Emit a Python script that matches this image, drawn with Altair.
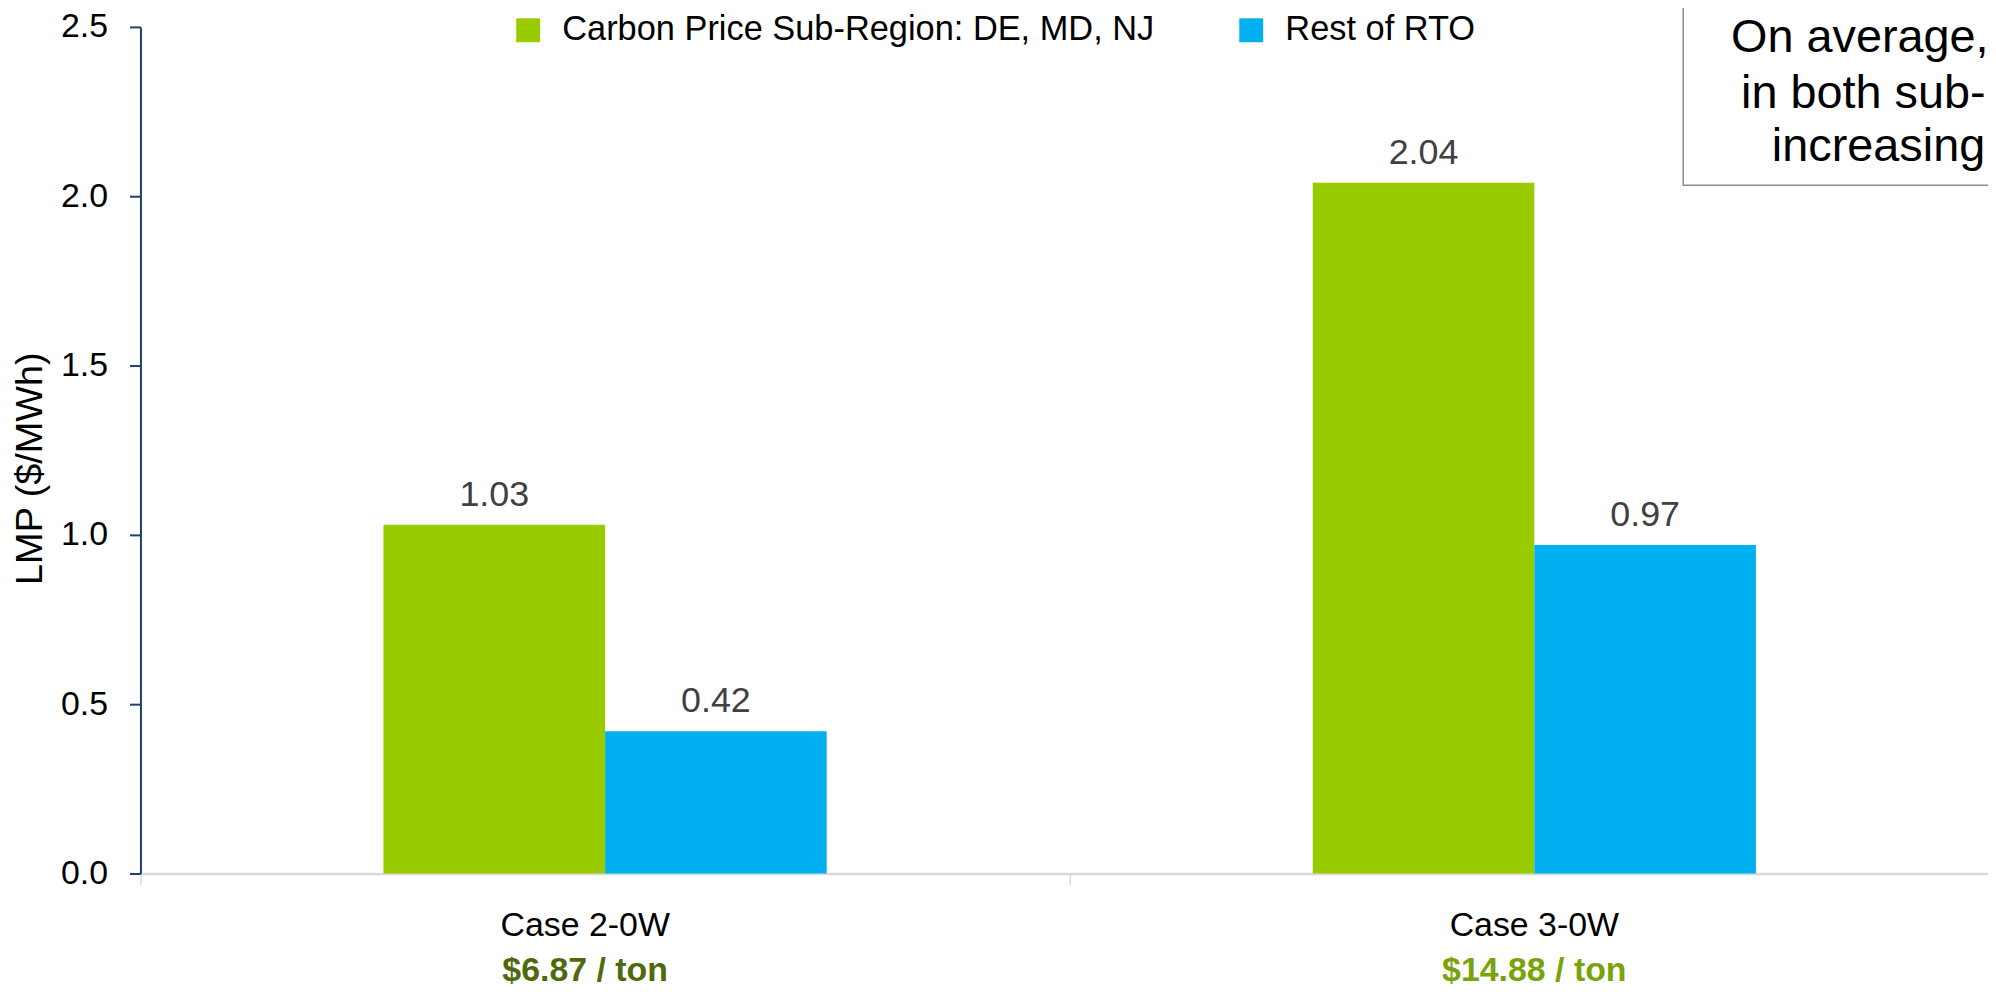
import altair as alt
import pandas as pd

categories = ["Case 2-0W", "Case 3-0W"]
series = ["Carbon Price Sub-Region: DE, MD, NJ", "Rest of RTO"]
sub_region_values = [1.03, 2.04]
rest_of_rto_values = [0.42, 0.97]
price_labels = ["$6.87 / ton", "$14.88 / ton"]
price_colors = ["#4F6A0C", "#78A30A"]
label_shift = [-20, 0]
series_colors = ["#99CC00", "#00B0F0"]
y_ticks = [0.0, 0.5, 1.0, 1.5, 2.0, 2.5]
annotation_lines = ["On average,", "in both sub-", "increasing"]

rows = []
for c, v1, v2 in zip(categories, sub_region_values, rest_of_rto_values):
    rows.append({"category": c, "series": series[0], "value": v1})
    rows.append({"category": c, "series": series[1], "value": v2})
df = pd.DataFrame(rows)
df_cat = pd.DataFrame({"category": categories, "price": price_labels})

REG = "'Liberation Sans', Arial, sans-serif"

x_enc = alt.X(
    "category:N",
    sort=categories,
    scale=alt.Scale(domain=categories, range=[0, 1866], paddingInner=0, paddingOuter=0),
    axis=alt.Axis(labels=False, title=None, bandPosition=0, tickSize=11,
                  tickColor="#d9d9d9", tickWidth=1.5, domainColor="#d9d9d9",
                  domainWidth=2.5, grid=False),
)
xoff_enc = alt.XOffset("series:N", sort=series,
                       scale=alt.Scale(domain=series, range=[244, 689],
                                       paddingInner=0, paddingOuter=0))
y_enc = alt.Y(
    "value:Q",
    scale=alt.Scale(domain=[0, 2.5], nice=False),
    axis=alt.Axis(values=y_ticks, format=".1f", labelFont=REG, labelFontSize=34,
                  labelColor="black", labelPadding=22, tickSize=11, tickColor="#1f3f6e",
                  tickWidth=2, domainColor="#1f3f6e", domainWidth=2, grid=False,
                  title="LMP ($/MWh)", titleFont=REG, titleFontSize=38,
                  titleFontWeight="normal", titleColor="black", titleAngle=270,
                  titleX=-91, titleY=443, titleBaseline="bottom"),
)

base = alt.Chart(df)
bars = base.mark_bar().encode(
    x=x_enc, xOffset=xoff_enc, y=y_enc,
    color=alt.Color("series:N", sort=series,
                    scale=alt.Scale(domain=series, range=series_colors),
                    legend=alt.Legend(title=None, orient="none", legendX=372, legendY=-14,
                                      direction="horizontal", symbolType="square",
                                      symbolSize=576, symbolStrokeWidth=0,
                                      labelFont=REG, labelFontSize=34.5, labelColor="black",
                                      labelOffset=17, columnPadding=80, labelLimit=1200,
                                      padding=0)),
)
value_labels = base.mark_text(dy=-19, baseline="alphabetic", fontSize=36,
                              color="#404040", font=REG).encode(
    x=x_enc, xOffset=xoff_enc, y=y_enc,
    text=alt.Text("value:Q", format=".2f"),
)

label_layers = []
for cat, col, shift in zip(categories, price_colors, label_shift):
    sub = alt.Chart(df_cat).transform_filter(alt.datum.category == cat)
    label_layers.append(
        sub.mark_text(baseline="alphabetic", fontSize=34, font=REG, color="black", dx=shift)
        .encode(x=x_enc, y=alt.value(913), text="category:N")
    )
    label_layers.append(
        sub.mark_text(baseline="alphabetic", fontSize=34, font=REG, fontWeight="bold",
                      color=col, dx=shift)
        .encode(x=x_enc, y=alt.value(958), text="price:N")
    )

box = alt.Chart(pd.DataFrame({"a": [0]})).mark_rect(
    fill="white", stroke="#8c8c8c", strokeWidth=1.5).encode(
    x=alt.value(1549), x2=alt.value(2200), y=alt.value(-80), y2=alt.value(159))

ann_layers = []
for txt, xp, yp in zip(annotation_lines, [1597, 1607, 1638], [25, 81, 135]):
    ann_layers.append(
        alt.Chart(pd.DataFrame({"t": [txt]})).mark_text(
            align="left", baseline="alphabetic", fontSize=47, font=REG, color="black")
        .encode(text="t:N", x=alt.value(xp), y=alt.value(yp))
    )

chart = alt.layer(bars, value_labels, *label_layers, box, *ann_layers).properties(
    width=1855, height=850,
    autosize=alt.AutoSizeParams(type="none"),
    padding={"left": 133, "top": 17, "right": 0, "bottom": 115},
).configure_view(stroke=None)

chart.save("out.html", embed_options={"renderer": "svg", "actions": False})
